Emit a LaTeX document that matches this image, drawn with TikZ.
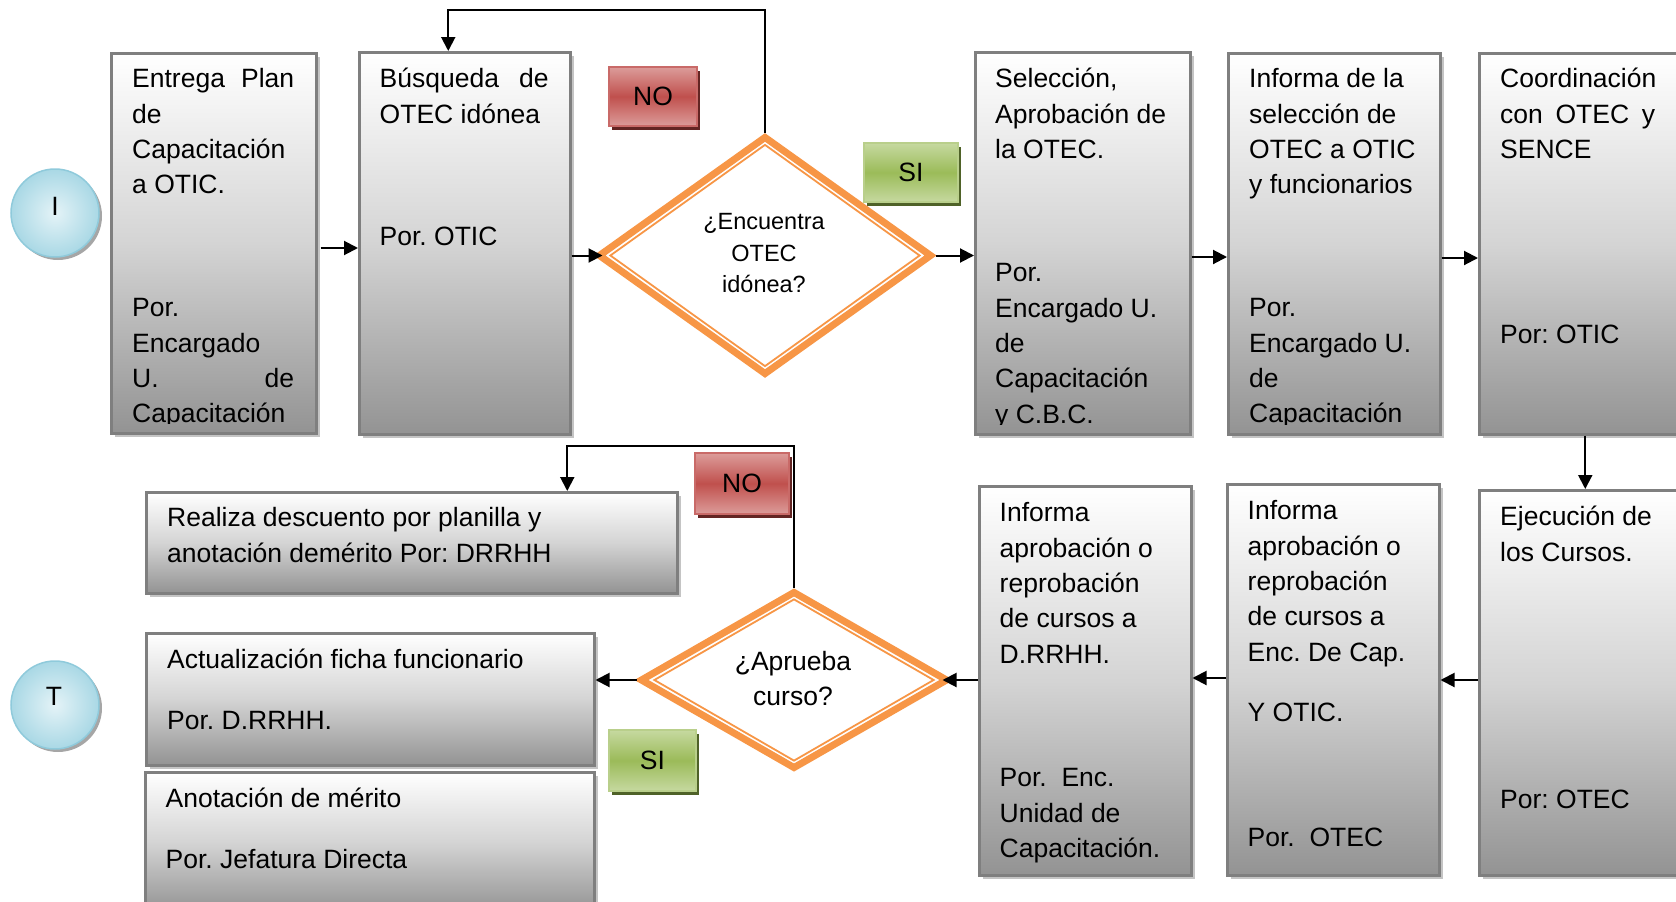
\documentclass[tikz,border=0pt]{standalone}
\usepackage{fontspec}
\setmainfont{Liberation Sans}
\usetikzlibrary{arrows.meta,shapes.geometric,shadows}

\definecolor{boxline}{HTML}{7F7F7F}
\definecolor{boxshade}{HTML}{C4C4C4}
\definecolor{boxmid}{HTML}{D4D4D4}
\definecolor{boxbot}{HTML}{939393}
\definecolor{dorange}{HTML}{F79646}
\definecolor{nored}{HTML}{C0504D}
\definecolor{noredlt}{HTML}{DC9C9A}
\definecolor{noshadow}{HTML}{632523}
\definecolor{sigreen}{HTML}{9BBB59}
\definecolor{sigreenlt}{HTML}{C6D9A0}
\definecolor{sishadow}{HTML}{4F6228}
\definecolor{circin}{HTML}{E4F3F7}
\definecolor{circout}{HTML}{A9D8E5}
\definecolor{circline}{HTML}{8FCADB}

\newcommand{\fsz}{\fontsize{26.5}{35.3}\selectfont}

\begin{document}
\frenchspacing
\begin{tikzpicture}[x=1pt,y=-1pt,
  procbox/.style={rectangle, draw=boxline, line width=2.5pt, inner sep=0pt,
    anchor=north west, top color=white, bottom color=boxbot, middle color=boxmid,
    drop shadow={shadow xshift=3.5pt, shadow yshift=-3.5pt, fill=boxshade, opacity=1}},
  txt/.style={inner sep=0pt, anchor=north west, align=left, font=\fsz, yshift=-2pt},
  dtext/.style={inner sep=0pt, align=center},
  decision/.style={diamond, draw=dorange, line width=7pt, fill=white, inner sep=0pt},
  decisionin/.style={diamond, draw=dorange, line width=1.8pt, inner sep=0pt},
  tag/.style={rectangle, inner sep=0pt, font=\fsz, line width=1.2pt},
  notag/.style={tag, draw=nored!85, top color=noredlt, bottom color=noredlt, middle color=nored,
    drop shadow={shadow xshift=3pt, shadow yshift=-4pt, fill=noshadow, opacity=1}},
  sitag/.style={tag, draw=sigreen!70, top color=sigreenlt, bottom color=sigreenlt, middle color=sigreen,
    drop shadow={shadow xshift=3pt, shadow yshift=-4pt, fill=sishadow, opacity=1}},
  endpoint/.style={circle, draw=circline, line width=1.5pt, inner color=circin, outer color=circout,
    minimum size=88pt, inner sep=0pt,
    drop shadow={shadow xshift=3pt, shadow yshift=-3pt, fill=black!35, opacity=1}},
  arr/.style={line width=2pt, -{Triangle[length=14pt,width=14pt]}}
]
\useasboundingbox (0,0) rectangle (1676,902);

% start and end markers
\node[endpoint] (ini) at (55,213) {};
\node[font=\fsz, inner sep=0pt] (iniT) at (55,206) {I};
\node[endpoint] (fin) at (55,705) {};
\node[font=\fsz, inner sep=0pt] (finT) at (54,696) {T};

% upper row of process boxes
\node[procbox, minimum width=205pt, minimum height=380pt] (b1) at (110,52) {};
\node[procbox, minimum width=211pt, minimum height=382pt] (b2) at (358,51) {};
\node[procbox, minimum width=215pt, minimum height=382pt] (b3) at (974,51) {};
\node[procbox, minimum width=212pt, minimum height=381pt] (b4) at (1227,52) {};
\node[procbox, minimum width=212pt, minimum height=381pt] (b5) at (1478,52) {};

% lower row of process boxes
\node[procbox, minimum width=212pt, minimum height=385pt] (b6) at (1478,489) {};
\node[procbox, minimum width=212pt, minimum height=391pt] (b7) at (1226,483) {};
\node[procbox, minimum width=212pt, minimum height=389pt] (b8) at (978,485) {};
\node[procbox, minimum width=531pt, minimum height=101pt] (b9) at (145,491) {};
\node[procbox, minimum width=448pt, minimum height=132pt] (b10) at (145,632) {};
\node[procbox, minimum width=449pt, minimum height=140pt] (b11) at (144,771) {};

% box texts (clipped to the box interior like the original text frames)
\begin{scope}
\clip (b1.north west) rectangle ([yshift=11.5pt]b1.south east);
\node[txt] (t1a) at (132,61) {\strut\makebox[162pt][s]{Entrega Plan}\\\strut de\\\strut Capacitación\\\strut a OTIC.};
\node[txt] (t1b) at (132,290) {\strut Por.\\\strut Encargado\\\strut\makebox[162pt][s]{U. de}\\\strut Capacitación};
\end{scope}
\begin{scope}
\clip (b2.north west) rectangle ([yshift=11.5pt]b2.south east);
\node[txt] (t2a) at (379.5,61) {\strut\makebox[169pt][s]{Búsqueda de}\\\strut OTEC idónea};
\node[txt] (t2b) at (379.5,219) {\strut Por. OTIC};
\end{scope}
\begin{scope}
\clip (b3.north west) rectangle ([yshift=11.5pt]b3.south east);
\node[txt] (t3a) at (995,61) {\strut Selección,\\\strut Aprobación de\\\strut la OTEC.};
\node[txt] (t3b) at (995,255) {\strut Por.\\\strut Encargado U.\\\strut de\\\strut Capacitación\\\strut y C.B.C.};
\end{scope}
\begin{scope}
\clip (b4.north west) rectangle ([yshift=11.5pt]b4.south east);
\node[txt] (t4a) at (1249,61) {\strut Informa de la\\\strut selección de\\\strut OTEC a OTIC\\\strut y funcionarios};
\node[txt] (t4b) at (1249,290) {\strut Por.\\\strut Encargado U.\\\strut de\\\strut Capacitación};
\end{scope}
\node[txt] (t5a) at (1500,61) {\strut Coordinación\\\strut\makebox[155pt][s]{con OTEC y}\\\strut SENCE};
\node[txt] (t5b) at (1500,317) {\strut Por: OTIC};

\node[txt] (t6a) at (1500,499) {\strut Ejecución de\\\strut los Cursos.};
\node[txt] (t6b) at (1500,782) {\strut Por: OTEC};
\node[txt] (t7a) at (1247.5,493) {\strut Informa\\\strut aprobación o\\\strut reprobación\\\strut de cursos a\\\strut Enc. De Cap.};
\node[txt] (t7b) at (1247.5,695) {\strut Y OTIC.};
\node[txt] (t7c) at (1247.5,820) {\strut Por.\ \ OTEC};
\node[txt] (t8a) at (999.5,495) {\strut Informa\\\strut aprobación o\\\strut reprobación\\\strut de cursos a\\\strut D.RRHH.};
\node[txt] (t8b) at (999.5,760) {\strut Por.\ \ Enc.\\\strut Unidad de\\\strut Capacitación.};
\node[txt] (t9) at (167,500) {\strut Realiza descuento por planilla y\\\strut anotación demérito Por: DRRHH};
\node[txt] (t10) at (167,642) {\strut Actualización ficha funcionario\\[25.2pt]\strut Por. D.RRHH.};
\node[txt] (t11) at (165.5,781) {\strut Anotación de mérito\\[25.2pt]\strut Por. Jefatura Directa};

% decisions
\node[decision, minimum width=334pt, minimum height=239pt] (d1) at (765,255.5) {};
\node[decisionin, minimum width=310pt, minimum height=222pt] (d1in) at (765,255.5) {};
\node[dtext, font=\fontsize{23.5}{31.5}\selectfont] (d1t) at (764,255)
  {\strut¿Encuentra\\\strut OTEC\\\strut idónea?};

\node[decision, minimum width=308pt, minimum height=178pt] (d2) at (794,680) {};
\node[decisionin, minimum width=280pt, minimum height=162pt] (d2in) at (794,680) {};
\node[dtext, font=\fontsize{26.5}{34.3}\selectfont] (d2t) at (793,681)
  {\strut¿Aprueba\\\strut curso?};

% answer tags
\node[notag, minimum width=88pt, minimum height=59pt] (no1) at (653,96.5) {NO};
\node[sitag, minimum width=94pt, minimum height=59pt] (si1) at (911,172.5) {SI};
\node[notag, minimum width=94pt, minimum height=61pt] (no2) at (742,483.5) {NO};
\node[sitag, minimum width=87pt, minimum height=61pt] (si2) at (652.5,760.5) {SI};

% helper rows for the connectors
\coordinate (loopTop) at (0,10);
\coordinate (loopBot) at (0,446);
\coordinate (ra) at (0,248);
\coordinate (rb) at (0,257);
\coordinate (rc) at (0,258);
\coordinate (rd) at (0,680);
\coordinate (re) at (0,678);

% connectors, upper row
\draw[arr, shorten <=3pt] (b1.east |- ra) -- (b2.west |- ra);
\draw[arr, shorten >=-8pt] (b2.east |- d1.west) -- (d1.west);
\draw[arr] (d1.east) -- (b3.west |- d1.east);
\draw[arr] (b3.east |- rb) -- (b4.west |- rb);
\draw[arr] (b4.east |- rc) -- (b5.west |- rc);
\draw[arr] (d1.north) -- (d1.north |- loopTop) -| ([xshift=-16.5pt]b2.north);
\draw[arr] (b5.south) -- (b6.north);

% connectors, lower row
\draw[arr] (b6.west |- rd) -- (b7.east |- rd);
\draw[arr] (b7.west |- re) -- (b8.east |- re);
\draw[arr, shorten >=-9pt] (b8.west |- d2.east) -- (d2.east);
\draw[arr] (d2.west) -- (b10.east |- d2.west);
\draw[arr] (d2.north) -- (d2.north |- loopBot) -| ([xshift=155.5pt]b9.north);
\end{tikzpicture}
\end{document}
